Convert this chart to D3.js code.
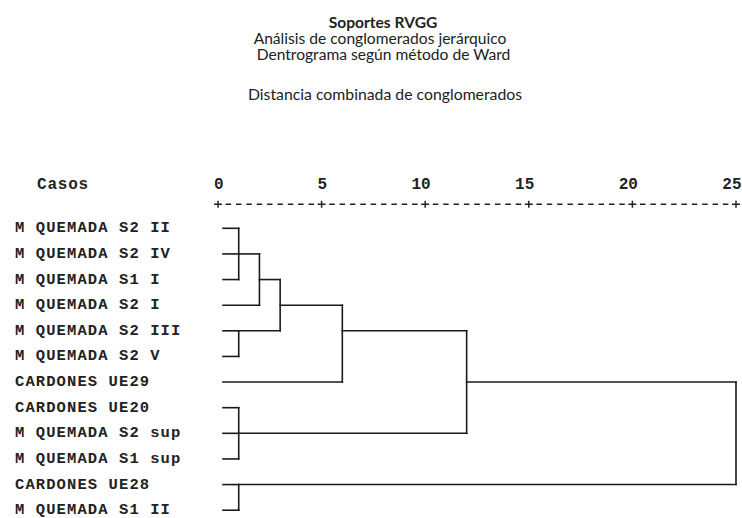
<!DOCTYPE html>
<html>
<head>
<meta charset="utf-8">
<script src="https://cdn.jsdelivr.net/npm/d3@7"></script>
<style>
  html, body { margin: 0; padding: 0; background: #fff; }
  svg { display: block; }
  .mono { font-family: "Courier New", "Liberation Mono", monospace; font-weight: bold; fill: #222; }
  .title { font-family: "Lato", "Open Sans", sans-serif; fill: #222; }
</style>
</head>
<body>
<svg id="chart" width="742" height="518"></svg>
<script>
// ---- data ----
const titleLines = ["Soportes RVGG", "Análisis de conglomerados jerárquico", "Dentrograma según método de Ward"];
const axisTitle = "Distancia combinada de conglomerados";
const casesHeader = "Casos";
const cases = [
  "M QUEMADA S2 II", "M QUEMADA S2 IV", "M QUEMADA S1 I", "M QUEMADA S2 I",
  "M QUEMADA S2 III", "M QUEMADA S2 V", "CARDONES UE29", "CARDONES UE20",
  "M QUEMADA S2 sup", "M QUEMADA S1 sup", "CARDONES UE28", "M QUEMADA S1 II"
];
const tickValues = [0, 5, 10, 15, 20, 25];
// agglomeration: cluster id, children (leaf names or cluster ids), rescaled distance
const mergeIds      = ["c1", "c2", "c3", "c4", "c5", "c6", "c7", "c8", "c9"];
const mergeChildren = [
  ["M QUEMADA S2 II", "M QUEMADA S2 IV", "M QUEMADA S1 I"],
  ["M QUEMADA S2 III", "M QUEMADA S2 V"],
  ["CARDONES UE20", "M QUEMADA S2 sup", "M QUEMADA S1 sup"],
  ["CARDONES UE28", "M QUEMADA S1 II"],
  ["c1", "M QUEMADA S2 I"],
  ["c5", "c2"],
  ["c6", "CARDONES UE29"],
  ["c7", "c3"],
  ["c8", "c4"]
];
const mergeHeights = [1, 1, 1, 1, 2, 3, 6, 12, 25];

// ---- layout ----
const svg = d3.select("#chart");
const x = d3.scaleLinear().domain([0, 25]).range([218, 736]);
const y = d3.scalePoint().domain(cases).range([228.3, 510.2]);
const leafOffset = 5;

// titles
const tg = svg.append("g").attr("class", "title");
const titleY = [28, 43.8, 59.5];
const titleX = [383, 380, 383.5];
titleLines.forEach((t, i) => {
  tg.append("text").attr("x", titleX[i]).attr("y", titleY[i]).attr("text-anchor", "middle")
    .attr("font-size", "15.6px")
    .attr("font-weight", i === 0 ? "bold" : "normal")
    .text(t);
});
tg.append("text").attr("x", 385).attr("y", 100).attr("text-anchor", "middle")
  .attr("font-size", "15.8px").text(axisTitle);

// header
svg.append("text").attr("class", "mono").attr("x", 37).attr("y", 188.5)
  .attr("font-size", "16px").attr("letter-spacing", "0.8px").text(casesHeader);

// axis with numbers
const axis = d3.axisTop(x).tickValues(tickValues).tickSize(0).tickPadding(0).tickFormat(d3.format("d"));
const ag = svg.append("g").attr("transform", "translate(0,188.5)").call(axis);
ag.select(".domain").remove();
ag.selectAll(".tick text")
  .attr("class", "mono").attr("font-size", "16px")
  .attr("text-anchor", "end").attr("dx", 5).attr("dy", 0)
  .style("fill", "#222").style("font-family", "'Courier New','Liberation Mono',monospace").style("font-weight", "bold");

// axis rule: "+" marks and dashes
const ruleY = 204.3;
const rg = svg.append("g").attr("stroke", "#222").attr("stroke-width", 1.5);
rg.selectAll("path.plus").data(tickValues).join("path")
  .attr("class", "plus")
  .attr("d", d => `M${x(d) - 4},${ruleY}H${x(d) + 4}M${x(d)},${ruleY - 3.5}V${ruleY + 3.5}`);
const intervals = d3.pairs(tickValues);
rg.selectAll("line.dash").data(intervals).join("line")
  .attr("class", "dash")
  .each(function([a, b]) {
    const cell = (x(b) - x(a)) / 10, dash = 5.5;
    d3.select(this)
      .attr("x1", x(a) + cell - dash / 2).attr("x2", x(b) - cell + dash / 2)
      .attr("y1", ruleY).attr("y2", ruleY)
      .attr("stroke-dasharray", `${dash},${cell - dash}`);
  });

// case labels
svg.append("g").selectAll("text").data(cases).join("text")
  .attr("class", "mono").attr("font-size", "15.5px").attr("letter-spacing", "1.1px")
  .attr("x", 15).attr("y", d => y(d)).attr("dy", "0.26em").text(d => d);

// dendrogram geometry
const nodes = new Map();
cases.forEach((c, i) => nodes.set(c, { row: i, xPix: x(0) + leafOffset }));
const segs = [];
mergeIds.forEach((id, k) => {
  const kids = mergeChildren[k].map(c => nodes.get(c));
  const hx = x(mergeHeights[k]);
  const rows = kids.map(n => n.row);
  const rMin = d3.min(rows), rMax = d3.max(rows);
  kids.forEach(n => segs.push({ x1: n.xPix, x2: hx, y1: y(cases[n.row]), y2: y(cases[n.row]) }));
  segs.push({ x1: hx, x2: hx, y1: y(cases[rMin]), y2: y(cases[rMax]) });
  nodes.set(id, { row: Math.floor((rMin + rMax) / 2), xPix: hx });
});
svg.append("g").attr("stroke", "#1a1a1a").attr("stroke-width", 1.6).attr("fill", "none")
  .attr("stroke-linecap", "square")
  .selectAll("line").data(segs).join("line")
  .attr("x1", d => d.x1).attr("x2", d => d.x2).attr("y1", d => d.y1).attr("y2", d => d.y2);
</script>
</body>
</html>
